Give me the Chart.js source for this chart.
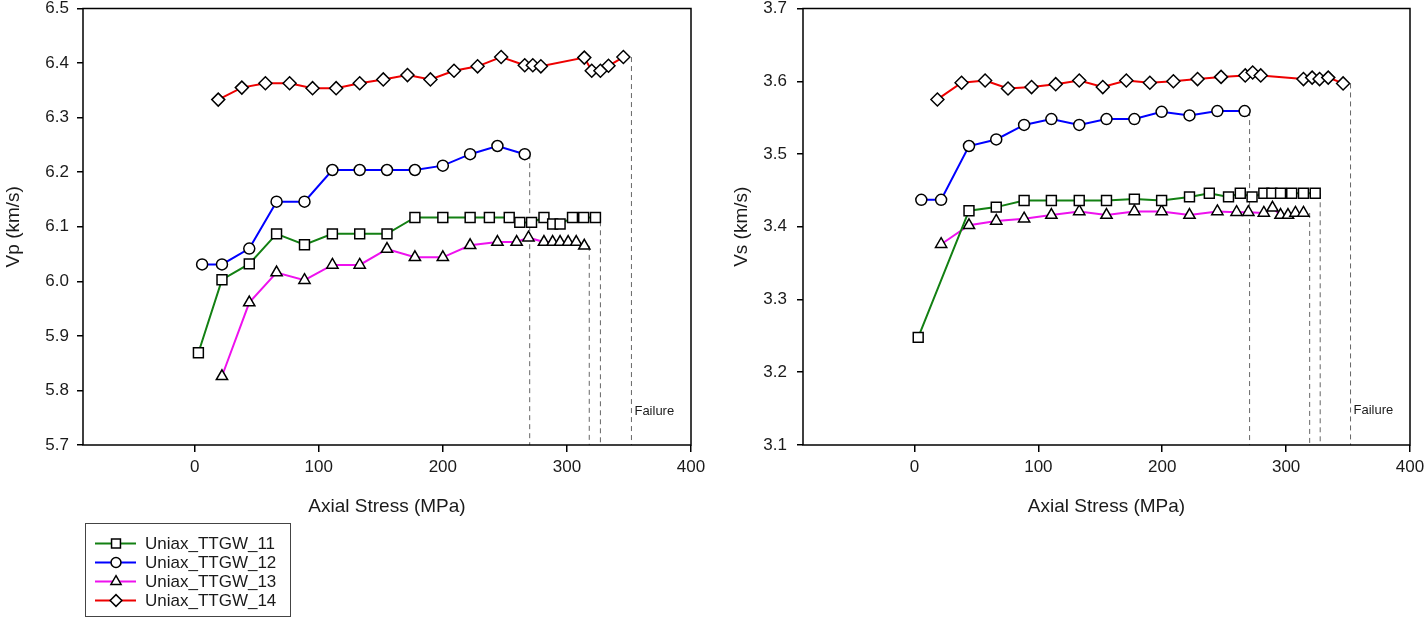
<!DOCTYPE html>
<html>
<head>
<meta charset="utf-8">
<title>Vp and Vs versus axial stress</title>
<script src="https://cdn.jsdelivr.net/npm/chart.js@4.4.1/dist/chart.umd.min.js"></script>
<style>
  html, body { margin: 0; padding: 0; background: #fff; }
  body { width: 1427px; height: 625px; position: relative; overflow: hidden;
         font-family: 'Liberation Sans', Arial, sans-serif; }
  #vp-chart { position: absolute; left: 0; top: 0; }
  #vs-chart { position: absolute; left: 712px; top: 0; }
  #legend { position: absolute; left: 85px; top: 523px; width: 206px; height: 94px;
            border: 1px solid #444; box-sizing: border-box; padding-top: 10px; }
  #legend .row { display: flex; align-items: center; height: 19px; }
  #legend canvas { margin-left: 9px; }
  #legend span { margin-left: 8px; font-size: 17px; color: #1a1a1a; white-space: nowrap; }
</style>
</head>
<body>
<canvas id="vp-chart" width="712" height="525"></canvas>
<canvas id="vs-chart" width="715" height="525"></canvas>
<div id="legend"></div>
<script>
'use strict';

const SERIES = ['Uniax_TTGW_11', 'Uniax_TTGW_12', 'Uniax_TTGW_13', 'Uniax_TTGW_14'];

const X_TICKS  = [0, 100, 200, 300, 400];
const VP_TICKS = [5.7, 5.8, 5.9, 6.0, 6.1, 6.2, 6.3, 6.4, 6.5];
const VS_TICKS = [3.1, 3.2, 3.3, 3.4, 3.5, 3.6, 3.7];

// ── Vp panel (axial stress MPa / km/s) ─────────────────────────────────────
const vp11Stress = [3, 22, 44, 66, 88.5, 111, 133, 155, 177.5, 200, 222, 237.5, 253.5, 262, 271.5, 281.5, 288.5, 294.5, 304.5, 313.5, 323];
const vp11       = [5.869, 6.003, 6.032, 6.087, 6.067, 6.087, 6.087, 6.087, 6.117, 6.117, 6.117, 6.117, 6.117, 6.108, 6.108, 6.117, 6.105, 6.105, 6.117, 6.117, 6.117];

const vp12Stress = [6, 22, 44, 66, 88.5, 111, 133, 155, 177.5, 200, 222, 244, 266];
const vp12       = [6.031, 6.031, 6.060, 6.146, 6.146, 6.204, 6.204, 6.204, 6.204, 6.212, 6.233, 6.248, 6.233];

const vp13Stress = [22, 44, 66, 88.5, 111, 133, 155, 177.5, 200, 222, 244, 259.5, 269, 281.5, 288.5, 294.5, 301, 307.5, 314];
const vp13       = [5.826, 5.961, 6.016, 6.002, 6.030, 6.030, 6.059, 6.044, 6.044, 6.066, 6.072, 6.072, 6.080, 6.072, 6.072, 6.072, 6.072, 6.072, 6.065];

const vp14Stress = [19, 38, 57, 76.5, 95, 114, 133, 152, 171.5, 190, 209, 228, 247, 266, 272.5, 279, 314, 320, 327, 333.5, 345.5];
const vp14       = [6.333, 6.355, 6.363, 6.363, 6.354, 6.354, 6.363, 6.370, 6.378, 6.370, 6.386, 6.394, 6.411, 6.396, 6.396, 6.394, 6.410, 6.386, 6.386, 6.395, 6.411];

const vpFailStress = [327, 270, 318, 352];
const vpFailTop    = [6.110, 6.233, 6.065, 6.411];

// ── Vs panel ────────────────────────────────────────────────────────────────
const vs11Stress = [3, 44, 66, 88.5, 110.5, 133, 155, 177.5, 199.5, 222, 238, 253.5, 263, 272.5, 282, 288.5, 295.5, 304.5, 314, 323.5];
const vs11       = [3.248, 3.422, 3.427, 3.436, 3.436, 3.436, 3.436, 3.438, 3.436, 3.441, 3.446, 3.441, 3.446, 3.441, 3.446, 3.446, 3.446, 3.446, 3.446, 3.446];

const vs12Stress = [5.5, 21.5, 44, 66, 88.5, 110.5, 133, 155, 177.5, 199.5, 222, 244.5, 266.5];
const vs12       = [3.437, 3.437, 3.511, 3.520, 3.540, 3.548, 3.540, 3.548, 3.548, 3.558, 3.553, 3.559, 3.559];

const vs13Stress = [21.5, 44, 66, 88.5, 110.5, 133, 155, 177.5, 199.5, 222, 244.5, 260, 269.5, 282, 289, 295.5, 301.5, 307.5, 314];
const vs13       = [3.376, 3.402, 3.408, 3.411, 3.416, 3.421, 3.416, 3.421, 3.421, 3.416, 3.421, 3.420, 3.420, 3.419, 3.426, 3.416, 3.416, 3.419, 3.419];

const vs14Stress = [18.5, 38, 57, 75.5, 94.5, 114, 133, 152, 171, 190, 209, 228.5, 247.5, 267, 273, 279.5, 314, 321, 327, 334, 346];
const vs14       = [3.575, 3.598, 3.601, 3.590, 3.592, 3.596, 3.601, 3.592, 3.601, 3.598, 3.600, 3.603, 3.606, 3.608, 3.612, 3.608, 3.603, 3.605, 3.603, 3.605, 3.597];

const vsFailStress = [327.5, 270.5, 319, 352];
const vsFailTop    = [3.446, 3.559, 3.419, 3.597];

// Line colour + marker per series
const STYLE = [
  { color: '#138013', point: 'rect',     r: 7   },
  { color: '#0000ff', point: 'circle',   r: 5.5 },
  { color: '#ee11ee', point: 'triangle', r: 6.5 },
  { color: '#ee0000', point: 'rectRot',  r: 6.5 },
];

const FONT = "'Liberation Sans', Arial, sans-serif";
const INK  = '#1a1a1a';

function _pts(xs, ys) { return xs.map((x, i) => ({ x, y: ys[i] })); }

function _seriesSets(stress, values) {
  return SERIES.map((name, i) => ({
    label: name,
    data: _pts(stress[i], values[i]),
    showLine: true,
    borderColor: STYLE[i].color,
    backgroundColor: STYLE[i].color,
    borderWidth: 2,
    pointStyle: STYLE[i].point,
    pointRadius: STYLE[i].r,
    pointBackgroundColor: '#fff',
    pointBorderColor: '#000',
    pointBorderWidth: 1.5,
    tension: 0,
    order: 0,
  }));
}

// dashed drop line from the last reading down to the stress axis
function _failureSets(failX, failTop, yMin) {
  return failX.map((x, i) => ({
    label: '',
    data: [{ x, y: failTop[i] }, { x, y: yMin }],
    showLine: true,
    borderColor: '#666',
    borderWidth: 1,
    borderDash: [5, 4],
    pointRadius: 0,
    order: 10,
  }));
}

const framePlugin = {
  id: 'frame',
  afterDraw(chart) {
    const { ctx, chartArea: a } = chart;
    ctx.save();
    ctx.strokeStyle = '#000';
    ctx.lineWidth = 1.5;
    ctx.strokeRect(a.left, a.top, a.right - a.left, a.bottom - a.top);
    ctx.restore();
  },
};

const failureLabelPlugin = {
  id: 'failureLabel',
  afterDatasetsDraw(chart, args, opts) {
    if (!opts || !opts.text) return;
    const { ctx, scales } = chart;
    ctx.save();
    ctx.font = '13px ' + FONT;
    ctx.fillStyle = INK;
    ctx.textBaseline = 'middle';
    ctx.fillText(opts.text, scales.x.getPixelForValue(opts.x) + 3, scales.y.getPixelForValue(opts.y));
    ctx.restore();
  },
};

function renderPanel(canvasId, cfg) {
  const ctx = document.getElementById(canvasId).getContext('2d');
  return new Chart(ctx, {
    type: 'scatter',
    data: {
      datasets: _seriesSets(cfg.stress, cfg.values)
        .concat(_failureSets(cfg.failX, cfg.failTop, cfg.yTicks[0])),
    },
    options: {
      responsive: false,
      animation: false,
      events: [],
      layout: { padding: { top: 8, right: cfg.padRight, left: 0, bottom: 0 } },
      plugins: {
        legend: { display: false },
        tooltip: { enabled: false },
        failureLabel: { text: 'Failure', x: cfg.failX[3], y: cfg.labelY },
      },
      scales: {
        x: {
          type: 'linear',
          min: -90,
          max: 400,
          afterBuildTicks: axis => { axis.ticks = X_TICKS.map(v => ({ value: v })); },
          afterFit: s => { s.height = 80; s.paddingLeft = 0; s.paddingRight = 0; },
          grid: { drawOnChartArea: false, tickLength: 7, color: '#000', lineWidth: 1.5 },
          border: { display: false },
          ticks: { color: INK, padding: 5, font: { family: FONT, size: 17 } },
          title: {
            display: true, text: 'Axial Stress (MPa)', color: INK,
            font: { family: FONT, size: 19 }, padding: { top: 4, bottom: 7 },
          },
        },
        y: {
          type: 'linear',
          min: cfg.yTicks[0],
          max: cfg.yTicks[cfg.yTicks.length - 1],
          afterBuildTicks: axis => { axis.ticks = cfg.yTicks.map(v => ({ value: v })); },
          afterFit: s => { s.width = cfg.yWidth; s.paddingTop = 0; s.paddingBottom = 0; },
          grid: { drawOnChartArea: false, tickLength: 6, color: '#000', lineWidth: 1.5 },
          border: { display: false },
          ticks: {
            color: INK, padding: cfg.tickPad,
            font: { family: FONT, size: 17 },
            callback: v => Number(v).toFixed(1),
          },
          title: {
            display: true, text: cfg.yTitle, color: INK,
            font: { family: FONT, size: 19 }, padding: { top: cfg.titlePad, bottom: 0 },
          },
        },
      },
    },
    plugins: [framePlugin, failureLabelPlugin],
  });
}

const vpChart = renderPanel('vp-chart', {
  stress:  [vp11Stress, vp12Stress, vp13Stress, vp14Stress],
  values:  [vp11, vp12, vp13, vp14],
  failX:   vpFailStress,
  failTop: vpFailTop,
  yTicks:  VP_TICKS,
  yTitle:  'Vp (km/s)',
  yWidth:  83,
  tickPad: 8,
  titlePad: 2,
  padRight: 21,
  labelY:  5.762,
});

renderPanel('vs-chart', {
  stress:  [vs11Stress, vs12Stress, vs13Stress, vs14Stress],
  values:  [vs11, vs12, vs13, vs14],
  failX:   vsFailStress,
  failTop: vsFailTop,
  yTicks:  VS_TICKS,
  yTitle:  'Vs (km/s)',
  yWidth:  91,
  tickPad: 10,
  titlePad: 18,
  padRight: 17,
  labelY:  3.147,
});

// ── Legend (built from the Vp chart's series) ───────────────────────────────
function buildLegend(chart) {
  const box = document.getElementById('legend');
  chart.data.datasets.filter(ds => ds.label).forEach(ds => {
    const row = document.createElement('div');
    row.className = 'row';
    const c = document.createElement('canvas');
    c.width = 42; c.height = 19;
    const g = c.getContext('2d');
    g.strokeStyle = ds.borderColor;
    g.lineWidth = 2;
    g.beginPath(); g.moveTo(0, 9.5); g.lineTo(41, 9.5); g.stroke();
    g.fillStyle = '#fff';
    g.strokeStyle = '#000';
    g.lineWidth = 1.5;
    Chart.helpers.drawPoint(g, {
      pointStyle: ds.pointStyle, radius: ds.pointRadius * 0.9, borderWidth: 1.5, rotation: 0,
    }, 21, 9.5);
    const label = document.createElement('span');
    label.textContent = ds.label;
    row.appendChild(c);
    row.appendChild(label);
    box.appendChild(row);
  });
}

buildLegend(vpChart);
</script>
</body>
</html>
